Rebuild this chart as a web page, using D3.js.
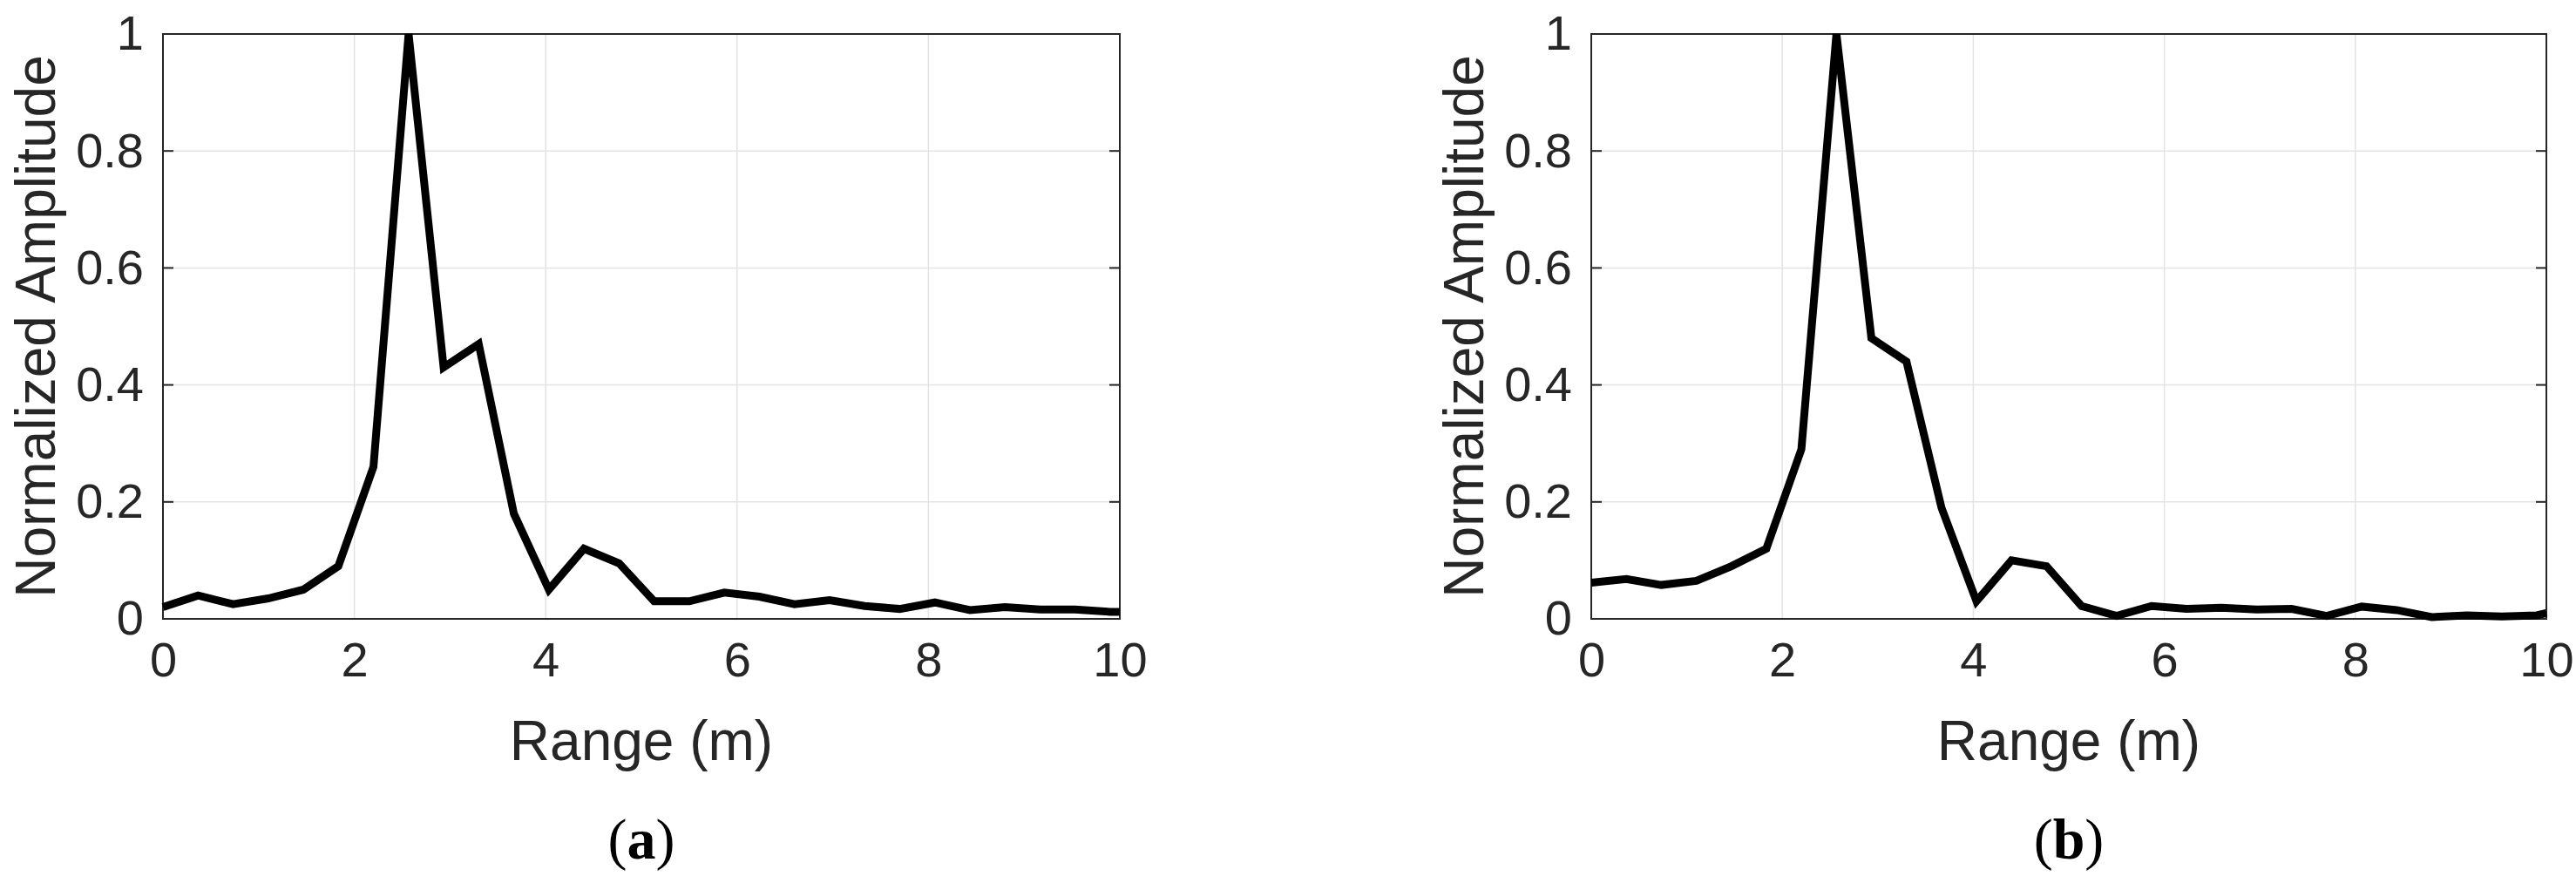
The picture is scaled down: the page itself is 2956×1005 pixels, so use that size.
<!DOCTYPE html>
<html><head><meta charset="utf-8">
<script src="https://cdn.jsdelivr.net/npm/d3@7"></script>
<style>body{margin:0;background:#fff}</style></head>
<body><svg id="c" width="2956" height="1005"></svg>
<script>
// sample positions (m)
const rangeM = [0,0.367,0.733,1.1,1.467,1.833,2.2,2.567,2.933,3.3,3.667,4.033,4.4,4.767,5.133,5.5,5.867,6.233,6.6,6.967,7.333,7.7,8.067,8.433,8.8,9.167,9.533,9.9,10];
const ampA = [0.02,0.04,0.025,0.035,0.05,0.09,0.26,1.0,0.43,0.47,0.18,0.05,0.12,0.095,0.03,0.03,0.045,0.038,0.025,0.032,0.022,0.017,0.028,0.015,0.02,0.016,0.016,0.012,0.012];
const ampB = [0.062,0.068,0.058,0.065,0.09,0.12,0.29,1.0,0.48,0.44,0.19,0.03,0.10,0.09,0.022,0.005,0.022,0.017,0.019,0.016,0.017,0.005,0.021,0.015,0.003,0.006,0.004,0.006,0.01];
const xTicks = [0,2,4,6,8,10];
const yTicks = [0,0.2,0.4,0.6,0.8,1];

const svg = d3.select("#c");
const font = "'Liberation Sans',Arial,sans-serif";

function panel(left, right, amp, tag) {
    const top = 39, bottom = 710;
    const x = d3.scaleLinear().domain([0, 10]).range([left, right]);
    const y = d3.scaleLinear().domain([0, 1]).range([bottom, top]);
    const g = svg.append("g");

    // grid
    g.selectAll(".gx").data(xTicks).enter().append("line")
        .attr("x1", d => x(d)).attr("x2", d => x(d)).attr("y1", top).attr("y2", bottom)
        .attr("stroke", "#e3e3e3").attr("stroke-width", 1.5);
    g.selectAll(".gy").data(yTicks).enter().append("line")
        .attr("y1", d => y(d)).attr("y2", d => y(d)).attr("x1", left).attr("x2", right)
        .attr("stroke", "#e3e3e3").attr("stroke-width", 1.5);

    const ax = d3.axisBottom(x).tickValues(xTicks).tickSize(0).tickPadding(26).tickFormat(d3.format("d"));
    const ay = d3.axisLeft(y).tickValues(yTicks).tickSize(0).tickPadding(22).tickFormat(d => d === 0 || d === 1 ? d : d3.format(".1f")(d));
    [g.append("g").attr("transform", `translate(0,${bottom})`).call(ax),
     g.append("g").attr("transform", `translate(${left},0)`).call(ay)].forEach(a => {
        a.select(".domain").remove();
        a.selectAll("text").attr("font-family", font).attr("font-size", 56).attr("fill", "#262626");
    });
    // inner ticks on all sides
    yTicks.forEach(t => {
        g.append("line").attr("x1", left).attr("x2", left + 12).attr("y1", y(t)).attr("y2", y(t)).attr("stroke", "#262626").attr("stroke-width", 2);
        g.append("line").attr("x1", right).attr("x2", right - 12).attr("y1", y(t)).attr("y2", y(t)).attr("stroke", "#262626").attr("stroke-width", 2);
    });
    g.append("rect").attr("x", left).attr("y", top).attr("width", right - left).attr("height", bottom - top)
        .attr("fill", "none").attr("stroke", "#262626").attr("stroke-width", 2);

    g.append("path").datum(rangeM.map((r, i) => [r, amp[i]]))
        .attr("d", d3.line().x(d => x(d[0])).y(d => y(d[1])))
        .attr("fill", "none").attr("stroke", "#000").attr("stroke-width", 9).attr("stroke-linejoin", "miter");

    g.append("text").attr("x", (left + right) / 2).attr("y", 872).attr("text-anchor", "middle")
        .attr("font-family", font).attr("font-size", 64).attr("fill", "#262626").text("Range (m)");
    g.append("text").attr("transform", `translate(${left - 124},${(top + bottom) / 2}) rotate(-90)`)
        .attr("text-anchor", "middle").attr("font-family", font).attr("font-size", 64).attr("fill", "#262626")
        .text("Normalized Amplitude");
    const t = g.append("text").attr("x", (left + right) / 2).attr("y", 985).attr("text-anchor", "middle")
        .attr("font-family", "'Liberation Serif',serif").attr("font-size", 66).attr("fill", "#000");
    t.append("tspan").text("(");
    t.append("tspan").attr("font-weight", "bold").text(tag);
    t.append("tspan").text(")");
}

panel(187, 1285, ampA, "a");
panel(1826, 2922, ampB, "b");
</script></body></html>
